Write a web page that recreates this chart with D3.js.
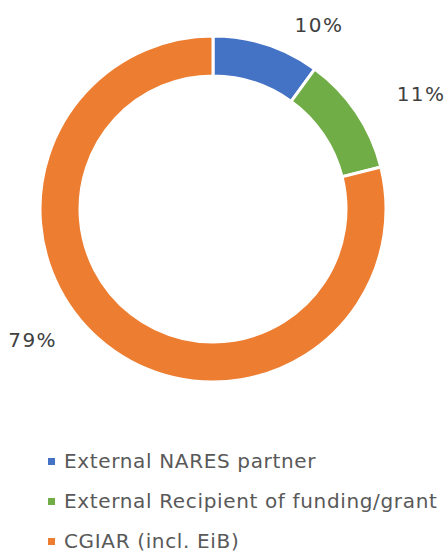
<!DOCTYPE html>
<html>
<head>
<meta charset="utf-8">
<script src="https://cdn.jsdelivr.net/npm/d3@7"></script>
<style>
  body { margin: 0; background: #fff; }
  text { font-family: Verdana, "DejaVu Sans", sans-serif; }
</style>
</head>
<body>
<script>
var width = 446, height = 555

var categories = ["External NARES partner", "External Recipient of funding/grant", "CGIAR (incl. EiB)"]
var shares = [10.0, 11.1, 78.9]
var labels = ["10%", "11%", "79%"]
var colors = ["#4472c4", "#70ad47", "#ed7d31"]

// label placement tweaks (outside the ring, excel style)
var labelNudge = [12, 5, 16]
var labelRadius = [212, 238, 223]

var cx = 213, cy = 209, outer = 173, inner = 133

var svg = d3.select("body").append("svg")
    .attr("width", width)
    .attr("height", height)

var g = svg.append("g")
    .attr("transform", "translate(" + cx + "," + cy + ")")

var pie = d3.pie().sort(null).value(function(d) { return d })
var arcs = pie(shares)

var arc = d3.arc().innerRadius(inner).outerRadius(outer)

g.selectAll("path")
  .data(arcs)
  .enter().append("path")
    .attr("d", arc)
    .attr("fill", function(d, i) { return colors[i] })
    .attr("stroke", "#fff")
    .attr("stroke-width", 3)

g.selectAll("text.lbl")
  .data(arcs)
  .enter().append("text")
    .attr("class", "lbl")
    .attr("x", function(d, i) {
      var a = (d.startAngle + d.endAngle) / 2 + labelNudge[i] * Math.PI / 180
      return labelRadius[i] * Math.sin(a)
    })
    .attr("y", function(d, i) {
      var a = (d.startAngle + d.endAngle) / 2 + labelNudge[i] * Math.PI / 180
      return -labelRadius[i] * Math.cos(a)
    })
    .attr("dy", "0.35em")
    .attr("text-anchor", "middle")
    .attr("font-size", 20)
    .attr("letter-spacing", 1.5)
    .attr("fill", "#404040")
    .text(function(d, i) { return labels[i] })

var legend = svg.append("g")
    .attr("transform", "translate(48,0)")

var item = legend.selectAll("g")
  .data(categories)
  .enter().append("g")
    .attr("transform", function(d, i) { return "translate(0," + (468 + i * 40) + ")" })

item.append("rect")
    .attr("x", 0)
    .attr("y", -10)
    .attr("width", 7)
    .attr("height", 7)
    .attr("fill", function(d, i) { return colors[i] })

item.append("text")
    .attr("x", 16)
    .attr("y", 0)
    .attr("font-size", 20)
    .attr("letter-spacing", 0.65)
    .attr("fill", "#595959")
    .text(function(d) { return d })
</script>
</body>
</html>
